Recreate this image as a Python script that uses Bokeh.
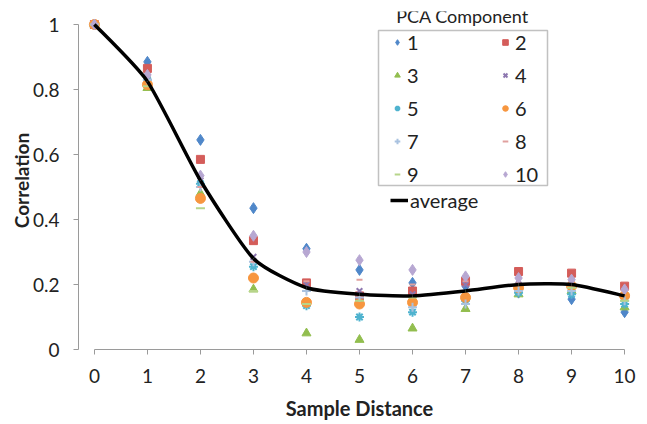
from bokeh.plotting import figure
from bokeh.models import Range1d, Legend, LegendItem, Label, ColumnDataSource, BoxAnnotation
from bokeh.embed import file_html
from bokeh.resources import INLINE

distance = [0, 1, 2, 3, 4, 5, 6, 7, 8, 9, 10]

s1 = [1, 0.885, 0.645, 0.435, 0.31, 0.245, 0.205, 0.195, 0.175, 0.155, 0.115]
s2 = [1, 0.865, 0.585, 0.335, 0.205, 0.165, 0.18, 0.21, 0.24, 0.235, 0.195]
s3 = [1, 0.805, 0.48, 0.185, 0.05, 0.03, 0.065, 0.125, 0.17, 0.18, 0.13]
s4 = [1, 0.84, 0.52, 0.285, 0.2, 0.18, 0.17, 0.2, 0.2, 0.2, 0.16]
s5 = [1, 0.83, 0.51, 0.255, 0.135, 0.1, 0.115, 0.15, 0.175, 0.17, 0.14]
s6 = [1, 0.815, 0.465, 0.22, 0.145, 0.14, 0.145, 0.16, 0.19, 0.195, 0.165]
s7 = [1, 0.83, 0.5, 0.27, 0.18, 0.16, 0.13, 0.14, 0.18, 0.18, 0.15]
s8 = [1, 0.84, 0.5, 0.27, 0.21, 0.215, 0.2, 0.21, 0.22, 0.21, 0.18]
s9 = [1, 0.81, 0.435, 0.18, 0.14, 0.15, 0.16, 0.18, 0.2, 0.19, 0.15]
s10 = [1, 0.845, 0.535, 0.35, 0.30, 0.275, 0.245, 0.225, 0.22, 0.215, 0.185]
average = [1, 0.825, 0.52, 0.28, 0.19, 0.17, 0.165, 0.18, 0.2, 0.2, 0.165]

series_names = ["1", "2", "3", "4", "5", "6", "7", "8", "9", "10"]
series_values = [s1, s2, s3, s4, s5, s6, s7, s8, s9, s10]
markers = ["diamond", "square", "triangle", "x", "asterisk", "circle", "cross", "dash", "dash", "diamond"]
colors = ["#4F87C9", "#D45D5A", "#92BE4F", "#8E78B0", "#4FB3CF", "#F7963F",
          "#A9C2E0", "#E0A09E", "#B7D58A", "#B7A7D2"]
sizes = [11, 8, 9, 8, 9, 10, 9, 6, 9, 11]

FONT = "Lato"
TENSION = 1.0 / 10.0

p = figure(width=647, height=424, output_backend="svg", toolbar_location=None,
           x_range=Range1d(-0.3, 10.3), y_range=Range1d(0, 1.04),
           min_border_left=78, min_border_right=7, min_border_top=11, min_border_bottom=75)
p.outline_line_color = None
p.xgrid.visible = False
p.ygrid.visible = False
p.background_fill_color = "white"

# smoothed average line (Bezier segments through the data points)
n = len(distance)
bx0, by0, bx1, by1, cx0, cy0, cx1, cy1 = [], [], [], [], [], [], [], []
for i in range(n - 1):
    xp = distance[i - 1] if i > 0 else distance[i]
    yp = average[i - 1] if i > 0 else average[i]
    xn = distance[i + 2] if i + 2 < n else distance[i + 1]
    yn = average[i + 2] if i + 2 < n else average[i + 1]
    bx0.append(distance[i]); by0.append(average[i])
    bx1.append(distance[i + 1]); by1.append(average[i + 1])
    cx0.append(distance[i] + (distance[i + 1] - xp) * TENSION)
    cy0.append(average[i] + (average[i + 1] - yp) * TENSION)
    cx1.append(distance[i + 1] - (xn - distance[i]) * TENSION)
    cy1.append(average[i + 1] - (yn - average[i]) * TENSION)
bsrc = ColumnDataSource(dict(x0=bx0, y0=by0, x1=bx1, y1=by1, cx0=cx0, cy0=cy0, cx1=cx1, cy1=cy1))

renderers = []
for name, vals, mk, col, sz in zip(series_names, series_values, markers, colors, sizes):
    r = p.scatter(distance, vals, marker=mk, size=sz, fill_color=col, line_color=col,
                  line_width=2 if mk in ("x", "asterisk", "cross", "dash") else 1)
    renderers.append(r)

avg_r = p.bezier(x0="x0", y0="y0", x1="x1", y1="y1", cx0="cx0", cy0="cy0", cx1="cx1", cy1="cy1",
                 source=bsrc, line_color="black", line_width=3.5)

# axes
for ax in (p.xaxis[0], p.yaxis[0]):
    ax.axis_line_color = "#9A9A9A"
    ax.major_tick_line_color = "#9A9A9A"
    ax.minor_tick_line_color = None
    ax.major_tick_in = 0
    ax.major_tick_out = 5
    ax.major_label_text_font = FONT
    ax.major_label_text_font_size = "19px"
    ax.major_label_text_color = "#222222"
    ax.axis_label_text_font = FONT
    ax.axis_label_text_font_style = "bold"
    ax.axis_label_text_color = "#222222"

p.xaxis.bounds = (0, 10)
p.yaxis.bounds = (0, 1)
p.xaxis.ticker = [0, 1, 2, 3, 4, 5, 6, 7, 8, 9, 10]
p.yaxis.ticker = [0, 0.2, 0.4, 0.6, 0.8, 1]
p.yaxis.major_label_overrides = {0: "0", 0.2: "0.2", 0.4: "0.4", 0.6: "0.6", 0.8: "0.8", 1: "1"}
p.xaxis.axis_label = "Sample Distance"
p.yaxis.axis_label = "Correlation"
p.xaxis.axis_label_text_font_size = "20px"
p.yaxis.axis_label_text_font_size = "19px"
p.xaxis.major_label_standoff = 14
p.yaxis.major_label_standoff = 14
p.xaxis.axis_label_standoff = 10
p.yaxis.axis_label_standoff = -3

# legend: items arranged column-major so rows read 1 2 / 3 4 / ...
order = [0, 2, 4, 6, 8, 1, 3, 5, 7, 9]
items = [LegendItem(label=series_names[k], renderers=[renderers[k]]) for k in order]
leg = Legend(items=items, ncols=2, location=(312, 163),
             border_line_color=None, background_fill_alpha=0,
             label_text_font=FONT, label_text_font_size="20px", label_text_color="#222222",
             glyph_width=14, glyph_height=20, label_height=20, label_standoff=3,
             label_width=82, spacing=9, padding=0, margin=0)
p.add_layout(leg, "center")

box = BoxAnnotation(left=300, right=469, bottom=164, top=319,
                    left_units="screen", right_units="screen",
                    bottom_units="screen", top_units="screen",
                    fill_alpha=0, line_color="#333333", line_width=1.5)
p.add_layout(box)

leg2 = Legend(items=[LegendItem(label="average", renderers=[avg_r])], location=(312, 137),
              border_line_color=None, background_fill_alpha=0,
              label_text_font=FONT, label_text_font_size="20px", label_text_color="#222222",
              glyph_width=18, glyph_height=20, label_height=20, label_standoff=2,
              padding=0, margin=0)
p.add_layout(leg2, "center")

title = Label(x=384, y=334, x_units="screen", y_units="screen", text="PCA Component",
              text_font=FONT, text_font_size="18px", text_align="center",
              text_baseline="middle", text_color="#222222")
p.add_layout(title)

open("out.html", "w").write(file_html(p, INLINE))
